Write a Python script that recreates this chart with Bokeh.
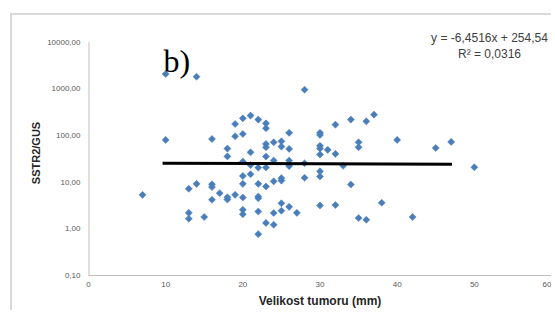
from bokeh.plotting import figure
from bokeh.models import FixedTicker, Range1d, Label, ColumnDataSource
from bokeh.embed import file_html
from bokeh.resources import INLINE

# ---- data ----
size_mm = [7,
           10, 10,
           13, 13, 13,
           14, 14,
           15,
           16, 16, 16, 16,
           17,
           18, 18, 18, 18,
           19, 19, 19,
           20, 20, 20, 20, 20, 20, 20, 20,
           21, 21, 21, 21,
           22, 22, 22, 22, 22, 22, 22,
           23, 23, 23, 23, 23, 23, 23, 23,
           24, 24, 24, 24, 24,
           25, 25, 25, 25, 25, 25,
           26, 26, 26, 26, 26,
           27,
           28, 28, 28,
           30, 30, 30, 30, 30, 30, 30, 30,
           31,
           32, 32, 32,
           33,
           34, 34,
           35, 35, 35,
           36, 36,
           37, 38, 40, 42, 45, 47, 50]
sstr2_gus = [5.35,
             2080, 80.5,
             7.2, 2.2, 1.64,
             1820, 9.2,
             1.79,
             84, 9.0, 7.85, 4.2,
             5.8,
             52.4, 35.7, 4.73, 4.24,
             177, 96, 5.35,
             233, 108, 27.6, 13.6, 9.2, 4.68, 2.55, 2.05,
             267, 43.6, 23.2, 14.8,
             219, 20.5, 9.2, 4.92, 4.52, 2.35, 0.77,
             182, 143, 66, 55.9, 35.3, 20.7, 8.05, 1.34,
             71.5, 29, 10.4, 2.18, 1.22,
             75.2, 57.8, 12.2, 10.8, 3.53, 2.44,
             114, 51.6, 29, 22.1, 2.96,
             2.2,
             960, 25.4, 12.4,
             114, 103, 60, 52.4, 39, 17.1, 13.2, 3.15,
             49.2,
             171, 40.4, 3.23,
             22.4,
             219, 8.9,
             71.5, 55.9, 1.70,
             201, 1.56,
             280, 3.62, 80.5, 1.79, 54.2, 73, 20.8]

trend_x = [9.6, 47.1]
trend_y = [25.4, 24.3]

x_ticks = [0, 10, 20, 30, 40, 50, 60]
y_ticks = [0.1, 1, 10, 100, 1000, 10000]
y_tick_labels = ["0,10", "1,00", "10,00", "100,00", "1000,00", "10000,00"]

equation_text = "y = -6,4516x + 254,54"
r2_text = "R\u00b2 = 0,0316"
panel_tag = "b)"
x_title = "Velikost tumoru (mm)"
y_title = "SSTR2/GUS"

W, H = 541, 297
p = figure(width=W, height=H, y_axis_type="log",
           x_range=Range1d(x_ticks[0], x_ticks[-1]),
           y_range=Range1d(y_ticks[0], 10 ** 4.25),
           output_backend="svg", toolbar_location=None,
           min_border_left=76, min_border_right=2,
           min_border_top=15, min_border_bottom=37)
p.styles = {"margin-left": "10px", "margin-top": "13px",
            "border-left": "2px solid #d9d9d9", "border-top": "2px solid #d9d9d9"}
p.outline_line_color = None
p.background_fill_color = "white"
p.border_fill_color = "white"
p.xgrid.visible = False
p.ygrid.visible = False

# value axis line only spans the tick range (0,10 .. 10000,00)
p.segment(x0=[x_ticks[0]], y0=[y_ticks[0]], x1=[x_ticks[0]], y1=[y_ticks[-1]],
          line_color="#bfbfbf", line_width=2)

src = ColumnDataSource(dict(x=size_mm, y=sstr2_gus))
p.scatter("x", "y", source=src, marker="square", angle=0.785398, size=5,
          fill_color="#4a7ebb", line_color="#4a7ebb", line_width=0.5)
p.line(trend_x, trend_y, line_color="black", line_width=3)

for ax in (p.xaxis[0], p.yaxis[0]):
    ax.major_tick_in = 0
    ax.major_tick_out = 0
    ax.minor_tick_in = 0
    ax.minor_tick_out = 0
    ax.major_label_text_font = "Liberation Sans"
    ax.major_label_text_font_size = "8px"
    ax.major_label_text_color = "#595959"
    ax.axis_label_text_font = "Liberation Sans"
    ax.axis_label_text_font_style = "bold"
    ax.axis_label_text_color = "#262626"

p.xaxis.axis_line_color = "#bfbfbf"
p.yaxis.axis_line_color = None
p.xaxis.ticker = FixedTicker(ticks=x_ticks)
p.yaxis.ticker = FixedTicker(ticks=y_ticks)
p.yaxis.major_label_overrides = {t: l for t, l in zip(y_ticks, y_tick_labels)}
p.xaxis.axis_label = x_title
p.yaxis.axis_label = y_title
p.xaxis.axis_label_text_font_size = "12px"
p.yaxis.axis_label_text_font_size = "11px"
p.xaxis.major_label_standoff = 6
p.yaxis.major_label_standoff = 8
p.xaxis.axis_label_standoff = 4
p.yaxis.axis_label_standoff = 2

p.add_layout(Label(x=75, y=215, x_units="screen", y_units="screen", text=panel_tag,
                   text_font="Liberation Serif", text_font_size="32px",
                   text_color="black", text_baseline="alphabetic"))
p.add_layout(Label(x=401, y=237.5, x_units="screen", y_units="screen", text=equation_text,
                   text_font="Liberation Sans", text_font_size="12px",
                   text_color="#404040", text_align="center", text_baseline="middle"))
p.add_layout(Label(x=401, y=222, x_units="screen", y_units="screen", text=r2_text,
                   text_font="Liberation Sans", text_font_size="12px",
                   text_color="#404040", text_align="center", text_baseline="middle"))

open("out.html", "w").write(file_html(p, INLINE))
